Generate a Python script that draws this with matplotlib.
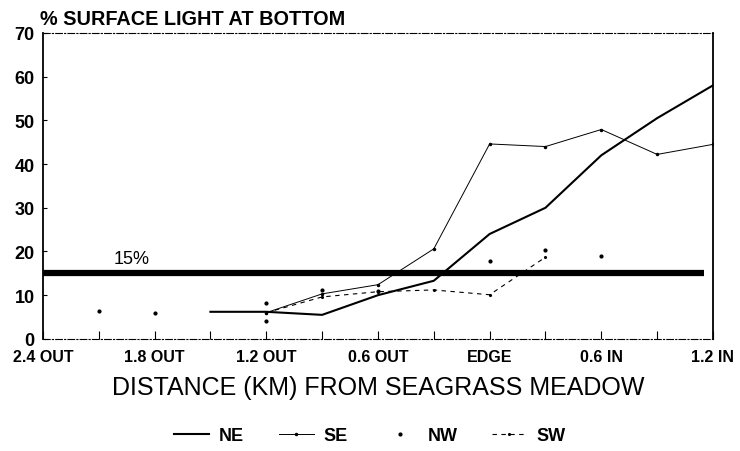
import matplotlib
matplotlib.use('Agg')
import matplotlib.pyplot as plt

plt.rcParams['font.family'] = ['Liberation Sans', 'DejaVu Sans']

# distance in km, negative = outside the meadow
NE_X = [-1.5, -1.2, -0.9, -0.6, -0.3, 0.0, 0.3, 0.6, 0.9, 1.2]
NE_Y = [6.2, 6.2, 5.5, 10.0, 13.3, 24.0, 30.0, 42.0, 50.5, 58.0]

SE_X = [-1.2, -0.9, -0.6, -0.3, 0.0, 0.3, 0.6, 0.9, 1.2]
SE_Y = [6.0, 10.3, 12.4, 20.6, 44.6, 44.0, 47.9, 42.2, 44.5]

NW_X = [-2.1, -1.8, -1.2, -1.2, -0.9, -0.6, 0.0, 0.3, 0.6]
NW_Y = [6.4, 6.0, 8.3, 4.1, 11.2, 11.0, 17.8, 20.4, 19.0]

SW_X = [-1.2, -0.9, -0.6, -0.3, 0.0, 0.3]
SW_Y = [6.0, 9.6, 10.8, 11.2, 10.1, 18.7]

THRESHOLD = 15
TICK_POS = [-2.4, -1.8, -1.2, -0.6, 0.0, 0.6, 1.2]
TICK_LABELS = ['2.4 OUT', '1.8 OUT', '1.2 OUT', '0.6 OUT', 'EDGE', '0.6 IN', '1.2 IN']
MINOR_POS = [-2.1, -1.5, -0.9, -0.3, 0.3, 0.9]

fig = plt.figure(figsize=(7.4, 4.52), dpi=100)
ax = fig.add_axes([0.058, 0.248, 0.9055, 0.677])

ax.hlines(THRESHOLD, -2.4, 1.15, color='black', lw=4.5, zorder=2)
ax.text(-2.02, 17.3, '15%', fontsize=13)

ax.plot(NE_X, NE_Y, '-', color='black', lw=1.5, label='NE', zorder=3)
ax.plot(SE_X, SE_Y, '-', color='black', lw=0.7, marker='.', ms=3, label='SE', zorder=3)
ax.plot(NW_X, NW_Y, ' ', color='black', marker='.', ms=4, label='NW', zorder=3)
ax.plot(SW_X, SW_Y, '--', color='black', lw=0.8, dashes=(4, 4), marker='.', ms=2.5,
        label='SW', zorder=3)

ax.set_xlim(-2.4, 1.2)
ax.set_ylim(0, 70)
ax.set_xticks(TICK_POS)
ax.set_xticklabels(TICK_LABELS, fontsize=11.5, fontweight='bold')
ax.set_xticks(MINOR_POS, minor=True)
ax.set_yticks(range(0, 71, 10))
ax.tick_params(axis='y', labelsize=13, direction='in', length=3, width=0.8, pad=6)
ax.tick_params(axis='x', which='both', direction='in', length=6, width=0.8, pad=7.5)
for lab in ax.get_yticklabels():
    lab.set_fontweight('bold')

ax.spines['top'].set_linestyle((0, (6, 2, 1, 2)))
ax.spines['bottom'].set_linestyle((0, (6, 2, 1, 2)))
ax.spines['top'].set_linewidth(0.8)
ax.spines['bottom'].set_linewidth(0.8)
ax.spines['left'].set_linewidth(1.3)
ax.spines['right'].set_linewidth(1.3)

fig.text(0.054, 0.945, '% SURFACE LIGHT AT BOTTOM', fontsize=14.3, fontweight='bold')
ax.set_xlabel('DISTANCE (KM) FROM SEAGRASS MEADOW', fontsize=18, labelpad=8)

fig.legend(loc='center', bbox_to_anchor=(0.5, 0.034), ncol=4, frameon=False,
           prop={'size': 13, 'weight': 'bold'}, numpoints=1, handlelength=1.95,
           handletextpad=0.55, columnspacing=1.9)

fig.savefig('out.png', dpi=100)
